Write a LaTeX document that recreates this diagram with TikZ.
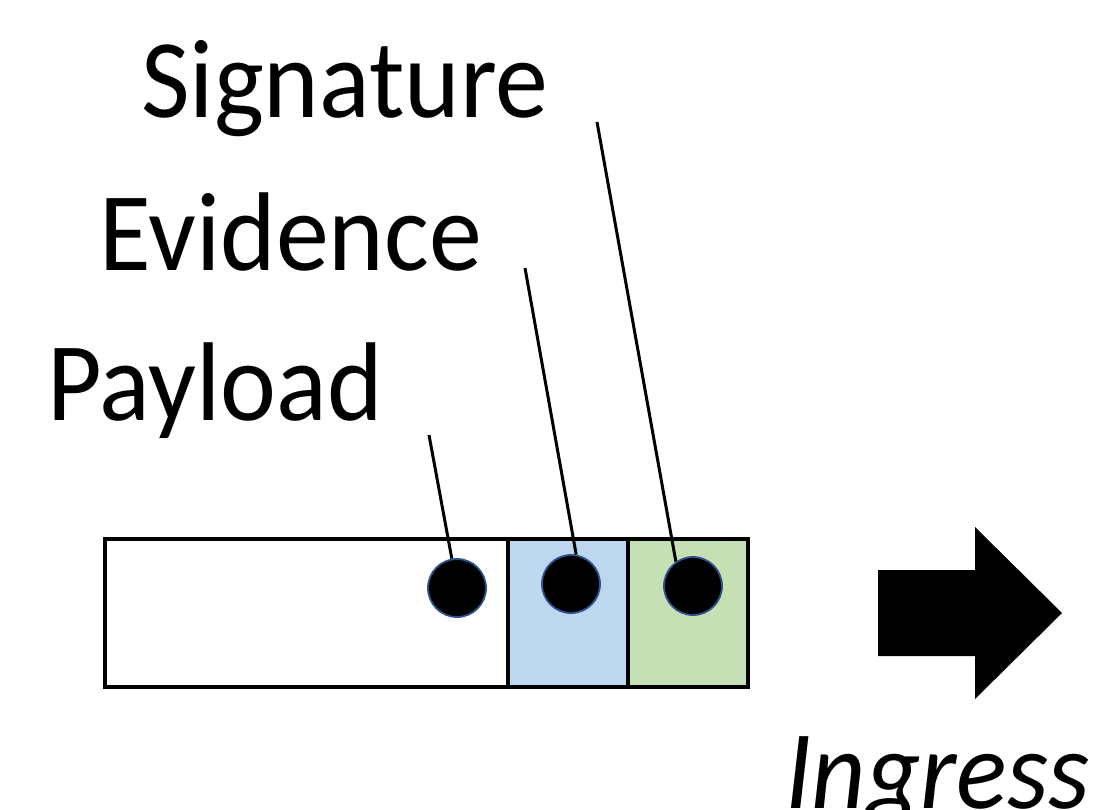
\documentclass[tikz,border=0pt]{standalone}
\usepackage{fontspec}
\setmainfont{Carlito}[FakeStretch=0.945]
\definecolor{evblue}{HTML}{BDD7EE}
\definecolor{sggreen}{HTML}{C5E0B4}
\definecolor{ringblue}{HTML}{2F528F}
\begin{document}
\begin{tikzpicture}[x=1pt,y=-1pt,
  seg/.style={draw=black, line width=3.5pt, anchor=north west, inner sep=0pt, outer sep=0pt, minimum height=148pt},
  dot/.style={circle, fill=black, draw=ringblue, line width=1.8pt, minimum size=58pt, inner sep=0pt},
  lbl/.style={anchor=base west, inner sep=0pt, font=\fontsize{112}{120}\selectfont},
  lead/.style={line width=3pt}]
\useasboundingbox (0,0) rectangle (1097,809);
\clip (0,0) rectangle (1097,809);
% labels
\node[lbl] (tsig) at (141,117) {Signature};
\node[lbl] (tevi) at (99,270) {Evidence};
\node[lbl] (tpay) at (47,420) {Payload};
% packet segments
\node[seg, fill=white, minimum width=403pt] (payload) at (105,539) {};
\node[seg, fill=evblue, minimum width=120pt] (evidence) at (508,539) {};
\node[seg, fill=sggreen, minimum width=120pt] (signature) at (628,539) {};
% dots
\node[dot] (cpay) at (457,588) {};
\node[dot] (cevi) at (571,584) {};
\node[dot] (csig) at (693,586) {};
% leader lines
\coordinate (lpay) at (429,435);
\coordinate (levi) at (525,268);
\coordinate (lsig) at (597,122);
\draw[lead] (lpay) -- (cpay.100);
\draw[lead] (levi) -- (cevi.80);
\draw[lead] (lsig) -- (csig.125);
% ingress arrow
\fill (878,570) -- (975,570) -- (975,527) -- (1062,613) -- (975,699) -- (975,656) -- (878,656) -- cycle;
\node[anchor=base west, inner sep=0pt, font=\fontsize{112}{120}\selectfont\itshape] (ingress) at (785,808) {Ingress};
\end{tikzpicture}
\end{document}
